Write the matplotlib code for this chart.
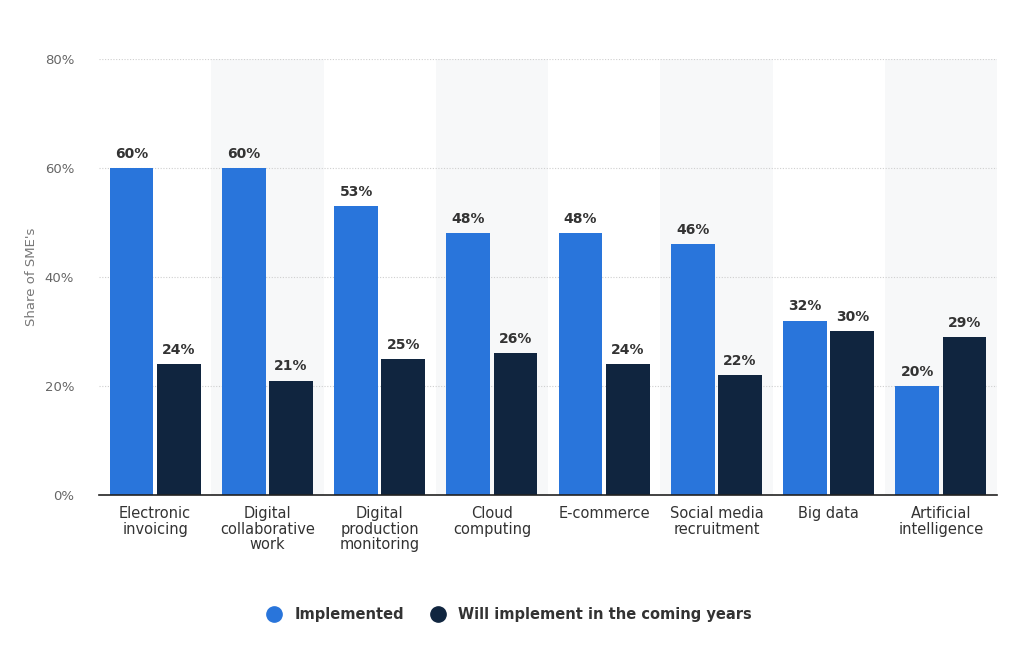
import matplotlib
matplotlib.use("Agg")
import matplotlib.pyplot as plt
from matplotlib.lines import Line2D
import numpy as np

categories = ["Electronic\ninvoicing", "Digital\ncollaborative\nwork",
              "Digital\nproduction\nmonitoring", "Cloud\ncomputing",
              "E-commerce", "Social media\nrecruitment", "Big data",
              "Artificial\nintelligence"]
implemented = [60, 60, 53, 48, 48, 46, 32, 20]
will_implement = [24, 21, 25, 26, 24, 22, 30, 29]
series_names = ["Implemented", "Will implement in the coming years"]
y_ticks = [0, 20, 40, 60, 80]

blue = "#2975db"
navy = "#10253f"

fig = plt.figure(figsize=(10.24, 6.69), dpi=100)
ax = fig.add_axes([0.0967, 0.260, 0.877, 0.652])

x = np.arange(len(categories))
w = 0.39
gap = 0.015

# alternating column shading
for i in x:
    if i % 2 == 1:
        ax.axvspan(i - 0.5, i + 0.5, color="#f7f8f9", zorder=0, lw=0)

ax.set_ylim(0, 80)
ax.set_xlim(-0.5, len(categories) - 0.5)
ax.set_yticks(y_ticks)
ax.set_yticklabels([f"{v}%" for v in y_ticks])
for v in y_ticks[1:]:
    ax.axhline(v, color="#cfcfcf", lw=0.8, ls=(0, (1, 1.5)), zorder=1)

b1 = ax.bar(x - w / 2 - gap, implemented, w, color=blue, zorder=2)
b2 = ax.bar(x + w / 2 + gap, will_implement, w, color=navy, zorder=2)

for bars, vals in [(b1, implemented), (b2, will_implement)]:
    for r, v in zip(bars, vals):
        ax.text(r.get_x() + r.get_width() / 2, v + 1.3, f"{v}%",
                ha="center", va="bottom", fontsize=10, fontweight="bold",
                color="#333333")

ax.set_xticks(x)
ax.set_xticklabels(categories, fontsize=10.5, color="#333333", linespacing=1.05)
ax.tick_params(axis="x", length=0, pad=8)
ax.tick_params(axis="y", length=0, pad=18, labelsize=9.5, labelcolor="#666666")

for s in ["top", "right", "left"]:
    ax.spines[s].set_visible(False)
ax.spines["bottom"].set_color("#222222")
ax.spines["bottom"].set_linewidth(1.2)
ax.set_facecolor("white")

ax.set_ylabel("Share of SME's", fontsize=9.5, color="#777777", labelpad=5)

handles = [Line2D([], [], marker="o", ls="", color=blue, markersize=11),
           Line2D([], [], marker="o", ls="", color=navy, markersize=11)]
leg = fig.legend(handles, series_names, loc="center", bbox_to_anchor=(0.494, 0.082),
                 ncol=2, frameon=False, handletextpad=0.4, columnspacing=1.3,
                 prop={"weight": "bold", "size": 10.5})
for t in leg.get_texts():
    t.set_color("#333333")

fig.savefig("out.png", dpi=100)
